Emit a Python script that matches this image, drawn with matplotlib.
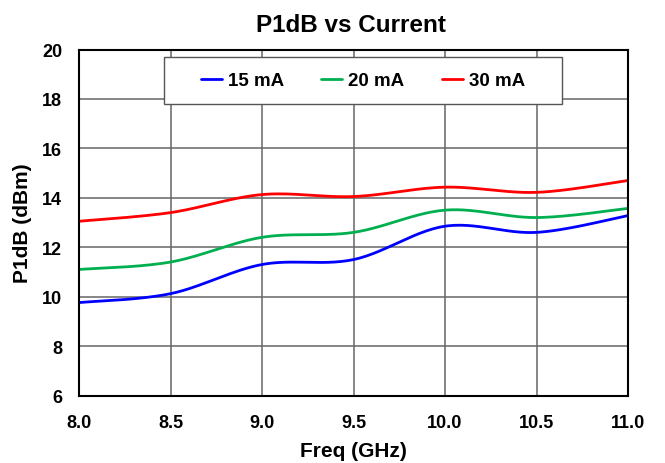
import numpy as np
import matplotlib
matplotlib.use("Agg")
import matplotlib.pyplot as plt
from matplotlib.patches import Rectangle

plt.rcParams['font.family'] = ['Liberation Sans', 'DejaVu Sans']

freq = [8.0, 8.5, 9.0, 9.5, 10.0, 10.5, 11.0]
p1db_15mA = [9.76, 10.12, 11.3, 11.5, 12.85, 12.6, 13.28]
p1db_20mA = [11.1, 11.4, 12.4, 12.6, 13.5, 13.2, 13.57]
p1db_30mA = [13.05, 13.4, 14.13, 14.05, 14.43, 14.22, 14.7]
series_labels = ['15 mA', '20 mA', '30 mA']
colors = ['#0000FF', '#00B050', '#FF0000']
x_ticks = [8.0, 8.5, 9.0, 9.5, 10.0, 10.5, 11.0]
y_ticks = [6, 8, 10, 12, 14, 16, 18, 20]

W, H = 665, 464


def smooth(x, y, n=30):
    # Excel-style smoothed line (Catmull-Rom Bezier segments)
    x = np.asarray(x, float)
    y = np.asarray(y, float)
    P = np.column_stack([x, y])
    out = [P[0]]
    t = np.linspace(0, 1, n)[1:]
    for i in range(len(P) - 1):
        p0 = P[i - 1] if i > 0 else P[i]
        p1 = P[i]
        p2 = P[i + 1]
        p3 = P[i + 2] if i + 2 < len(P) else P[i + 1]
        c1 = p1 + (p2 - p0) / 6.0
        c2 = p2 - (p3 - p1) / 6.0
        for tt in t:
            b = ((1 - tt) ** 3) * p1 + 3 * ((1 - tt) ** 2) * tt * c1 + 3 * (1 - tt) * tt ** 2 * c2 + tt ** 3 * p2
            out.append(b)
    out = np.array(out)
    return out[:, 0], out[:, 1]


fig = plt.figure(figsize=(W / 100, H / 100), dpi=100)
ax = fig.add_axes([79 / W, 1 - 396.5 / H, (628 - 79) / W, (396.5 - 50.5) / H])

for ys, lab, c in zip([p1db_15mA, p1db_20mA, p1db_30mA], series_labels, colors):
    sx, sy = smooth(freq, ys)
    ax.plot(sx, sy, color=c, lw=2.0, label=lab, solid_capstyle='round')

ax.set_xlim(8.0, 11.0)
ax.set_ylim(6, 20)
ax.set_xticks(x_ticks)
ax.set_xticklabels([f"{v:.1f}" for v in x_ticks])
ax.set_yticks(y_ticks)
ax.tick_params(length=0, labelsize=13)
ax.tick_params(axis='y', pad=12)
ax.tick_params(axis='x', pad=13)
for lbl in ax.get_xticklabels() + ax.get_yticklabels():
    lbl.set_fontweight('bold')
ax.grid(True, color='#666666', lw=1.1)
ax.set_axisbelow(True)
for s in ax.spines.values():
    s.set_linewidth(1.5)
    s.set_color('black')

fig.text((79 + 628) / 2 / W, 1 - 457 / H, 'Freq (GHz)', ha='center', va='baseline',
         fontsize=15, fontweight='bold')
fig.text(28 / W, 1 - 223.5 / H, 'P1dB (dBm)', rotation=90, rotation_mode='anchor',
         ha='center', va='baseline', fontsize=15, fontweight='bold')
fig.text(351 / W, 1 - 32 / H, 'P1dB vs Current', ha='center', va='baseline',
         fontsize=17.5, fontweight='bold')

# legend frame
x0, y0, x1, y1 = 164, 58, 562, 105
rect = Rectangle((x0 / W, 1 - y1 / H), (x1 - x0) / W, (y1 - y0) / H, transform=fig.transFigure,
                 facecolor='white', edgecolor='#555555', lw=1.0, zorder=5, clip_on=False)
ax.add_patch(rect)
leg = ax.legend(loc='center', bbox_to_anchor=(363 / W, 1 - 81.5 / H), bbox_transform=fig.transFigure,
                ncol=3, frameon=False, prop={'weight': 'bold', 'size': 13.5},
                handlelength=1.12, columnspacing=1.97, handletextpad=0.32, borderpad=0.2)
leg.set_zorder(6)

fig.savefig('out.png', dpi=100)
